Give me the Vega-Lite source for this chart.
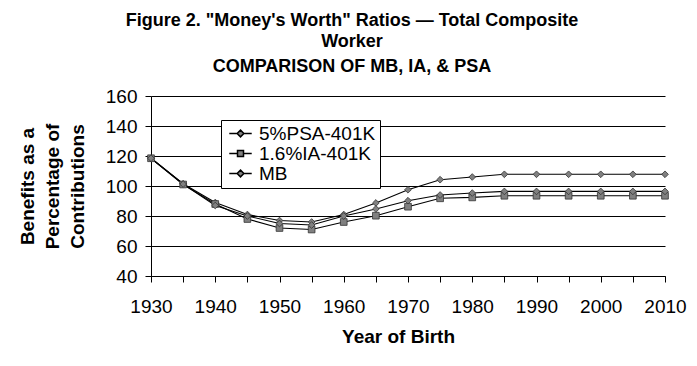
{
  "$schema": "https://vega.github.io/schema/vega-lite/v6.json",
  "width": 514,
  "height": 180,
  "autosize": {"type": "none"},
  "padding": {"left": 151, "top": 96, "right": 32, "bottom": 90},
  "background": "white",
  "title": {
    "text": ["Figure 2. \"Money's Worth\" Ratios — Total Composite", "Worker"],
    "subtitle": "COMPARISON OF MB, IA, & PSA",
    "anchor": "middle",
    "frame": "group",
    "dx": -56,
    "font": "Liberation Sans",
    "fontSize": 18,
    "fontWeight": "bold",
    "color": "black",
    "lineHeight": 21,
    "subtitleFont": "Liberation Sans",
    "subtitleFontSize": 18,
    "subtitleFontWeight": "bold",
    "subtitleColor": "black",
    "subtitlePadding": 7,
    "offset": 11
  },
  "data": {
    "values": [
      {"year": 1930, "series": "5%PSA-401K", "value": 118.5},
      {"year": 1935, "series": "5%PSA-401K", "value": 101.5},
      {"year": 1940, "series": "5%PSA-401K", "value": 89},
      {"year": 1945, "series": "5%PSA-401K", "value": 81},
      {"year": 1950, "series": "5%PSA-401K", "value": 77},
      {"year": 1955, "series": "5%PSA-401K", "value": 76},
      {"year": 1960, "series": "5%PSA-401K", "value": 81},
      {"year": 1965, "series": "5%PSA-401K", "value": 88.7},
      {"year": 1970, "series": "5%PSA-401K", "value": 97.5},
      {"year": 1975, "series": "5%PSA-401K", "value": 104.2},
      {"year": 1980, "series": "5%PSA-401K", "value": 106},
      {"year": 1985, "series": "5%PSA-401K", "value": 107.8},
      {"year": 1990, "series": "5%PSA-401K", "value": 107.8},
      {"year": 1995, "series": "5%PSA-401K", "value": 107.8},
      {"year": 2000, "series": "5%PSA-401K", "value": 107.8},
      {"year": 2005, "series": "5%PSA-401K", "value": 107.8},
      {"year": 2010, "series": "5%PSA-401K", "value": 107.8},
      {"year": 1930, "series": "1.6%IA-401K", "value": 118.5},
      {"year": 1935, "series": "1.6%IA-401K", "value": 101},
      {"year": 1940, "series": "1.6%IA-401K", "value": 88},
      {"year": 1945, "series": "1.6%IA-401K", "value": 78},
      {"year": 1950, "series": "1.6%IA-401K", "value": 72},
      {"year": 1955, "series": "1.6%IA-401K", "value": 71},
      {"year": 1960, "series": "1.6%IA-401K", "value": 76},
      {"year": 1965, "series": "1.6%IA-401K", "value": 80.2},
      {"year": 1970, "series": "1.6%IA-401K", "value": 86.2},
      {"year": 1975, "series": "1.6%IA-401K", "value": 91.8},
      {"year": 1980, "series": "1.6%IA-401K", "value": 92.4},
      {"year": 1985, "series": "1.6%IA-401K", "value": 93.5},
      {"year": 1990, "series": "1.6%IA-401K", "value": 93.5},
      {"year": 1995, "series": "1.6%IA-401K", "value": 93.5},
      {"year": 2000, "series": "1.6%IA-401K", "value": 93.5},
      {"year": 2005, "series": "1.6%IA-401K", "value": 93.5},
      {"year": 2010, "series": "1.6%IA-401K", "value": 93.5},
      {"year": 1930, "series": "MB", "value": 118.5},
      {"year": 1935, "series": "MB", "value": 101.3},
      {"year": 1940, "series": "MB", "value": 87},
      {"year": 1945, "series": "MB", "value": 80},
      {"year": 1950, "series": "MB", "value": 75},
      {"year": 1955, "series": "MB", "value": 74},
      {"year": 1960, "series": "MB", "value": 80},
      {"year": 1965, "series": "MB", "value": 84.7},
      {"year": 1970, "series": "MB", "value": 90.2},
      {"year": 1975, "series": "MB", "value": 94},
      {"year": 1980, "series": "MB", "value": 95.3},
      {"year": 1985, "series": "MB", "value": 96.4},
      {"year": 1990, "series": "MB", "value": 96.4},
      {"year": 1995, "series": "MB", "value": 96.4},
      {"year": 2000, "series": "MB", "value": 96.4},
      {"year": 2005, "series": "MB", "value": 96.4},
      {"year": 2010, "series": "MB", "value": 96.4}
    ]
  },
  "encoding": {
    "x": {
      "field": "year",
      "type": "quantitative",
      "scale": {"domain": [1930, 2010], "nice": false, "zero": false},
      "axis": {
        "values": [1930, 1935, 1940, 1945, 1950, 1955, 1960, 1965, 1970, 1975, 1980, 1985, 1990, 1995, 2000, 2005, 2010],
        "format": "d",
        "labelExpr": "datum.value % 10 === 0 ? datum.label : ''",
        "grid": false,
        "tickSize": 6,
        "tickColor": "black",
        "tickWidth": 1,
        "domainColor": "black",
        "domainWidth": 1,
        "labelFont": "Liberation Sans",
        "labelFontSize": 19,
        "labelColor": "black",
        "labelBaseline": "alphabetic",
        "labelPadding": 30,
        "labelOverlap": false,
        "labelFlush": false,
        "title": "Year of Birth",
        "titleFont": "Liberation Sans",
        "titleFontSize": 19,
        "titleFontWeight": "bold",
        "titleColor": "black",
        "titleX": 247,
        "titleY": 66,
        "titleBaseline": "alphabetic",
        "titleAlign": "center"
      }
    },
    "y": {
      "field": "value",
      "type": "quantitative",
      "scale": {"domain": [40, 160], "nice": false, "zero": false},
      "axis": {
        "values": [40, 60, 80, 100, 120, 140, 160],
        "grid": true,
        "gridColor": "black",
        "gridOpacity": 1,
        "gridWidth": 1,
        "tickSize": 6,
        "tickColor": "black",
        "domainColor": "black",
        "labelFont": "Liberation Sans",
        "labelFontSize": 19,
        "labelColor": "black",
        "labelPadding": 8,
        "title": ["Benefits as a", "Percentage of", "Contributions"],
        "titleFont": "Liberation Sans",
        "titleFontSize": 19,
        "titleFontWeight": "bold",
        "titleColor": "black",
        "titleLineHeight": 25,
        "titleX": -124,
        "titleY": 90,
        "titleBaseline": "middle",
        "titleAlign": "center",
        "titleAngle": -90
      }
    }
  },
  "layer": [
    {
      "mark": {"type": "line", "color": "black", "strokeWidth": 1.1},
      "encoding": {"detail": {"field": "series", "type": "nominal"}}
    },
    {
      "mark": {"type": "point", "filled": true, "fill": "#808080", "stroke": "#333333", "strokeWidth": 0.8, "size": 45, "opacity": 1},
      "encoding": {
        "shape": {
          "field": "series",
          "type": "nominal",
          "scale": {"domain": ["5%PSA-401K", "1.6%IA-401K", "MB"], "range": ["diamond", "square", "diamond"]},
          "legend": null
        }
      }
    },
    {
      "transform": [{"filter": "datum.year < 0"}],
      "mark": {"type": "point", "filled": true, "fill": "#808080", "stroke": "black", "strokeWidth": 1, "size": 56, "opacity": 1},
      "encoding": {
        "shape": {
          "field": "series",
          "type": "nominal",
          "scale": {
            "domain": ["5%PSA-401K", "1.6%IA-401K", "MB"],
            "range": [
              "M-3,0L-0.9,0M0.9,0L3,0M0,-0.9L0.9,0L0,0.9L-0.9,0Z",
              "M-3,0L-0.8,0M0.8,0L3,0M-0.8,-0.8L0.8,-0.8L0.8,0.8L-0.8,0.8Z",
              "M-3,0L-0.9,0M0.9,0L3,0M0,-0.9L0.9,0L0,0.9L-0.9,0Z"
            ]
          },
          "legend": {
            "title": null,
            "orient": "none",
            "legendX": 70,
            "legendY": 24,
            "strokeColor": "black",
            "fillColor": "white",
            "padding": 4,
            "cornerRadius": 0,
            "labelFont": "Liberation Sans",
            "labelFontSize": 19,
            "labelColor": "black",
            "symbolSize": 56,
            "symbolOffset": 6,
            "labelOffset": 9,
            "rowPadding": 0
          }
        }
      }
    }
  ],
  "resolve": {"scale": {"shape": "independent"}, "legend": {"shape": "independent"}},
  "config": {"view": {"stroke": null}, "font": "Liberation Sans"}
}
